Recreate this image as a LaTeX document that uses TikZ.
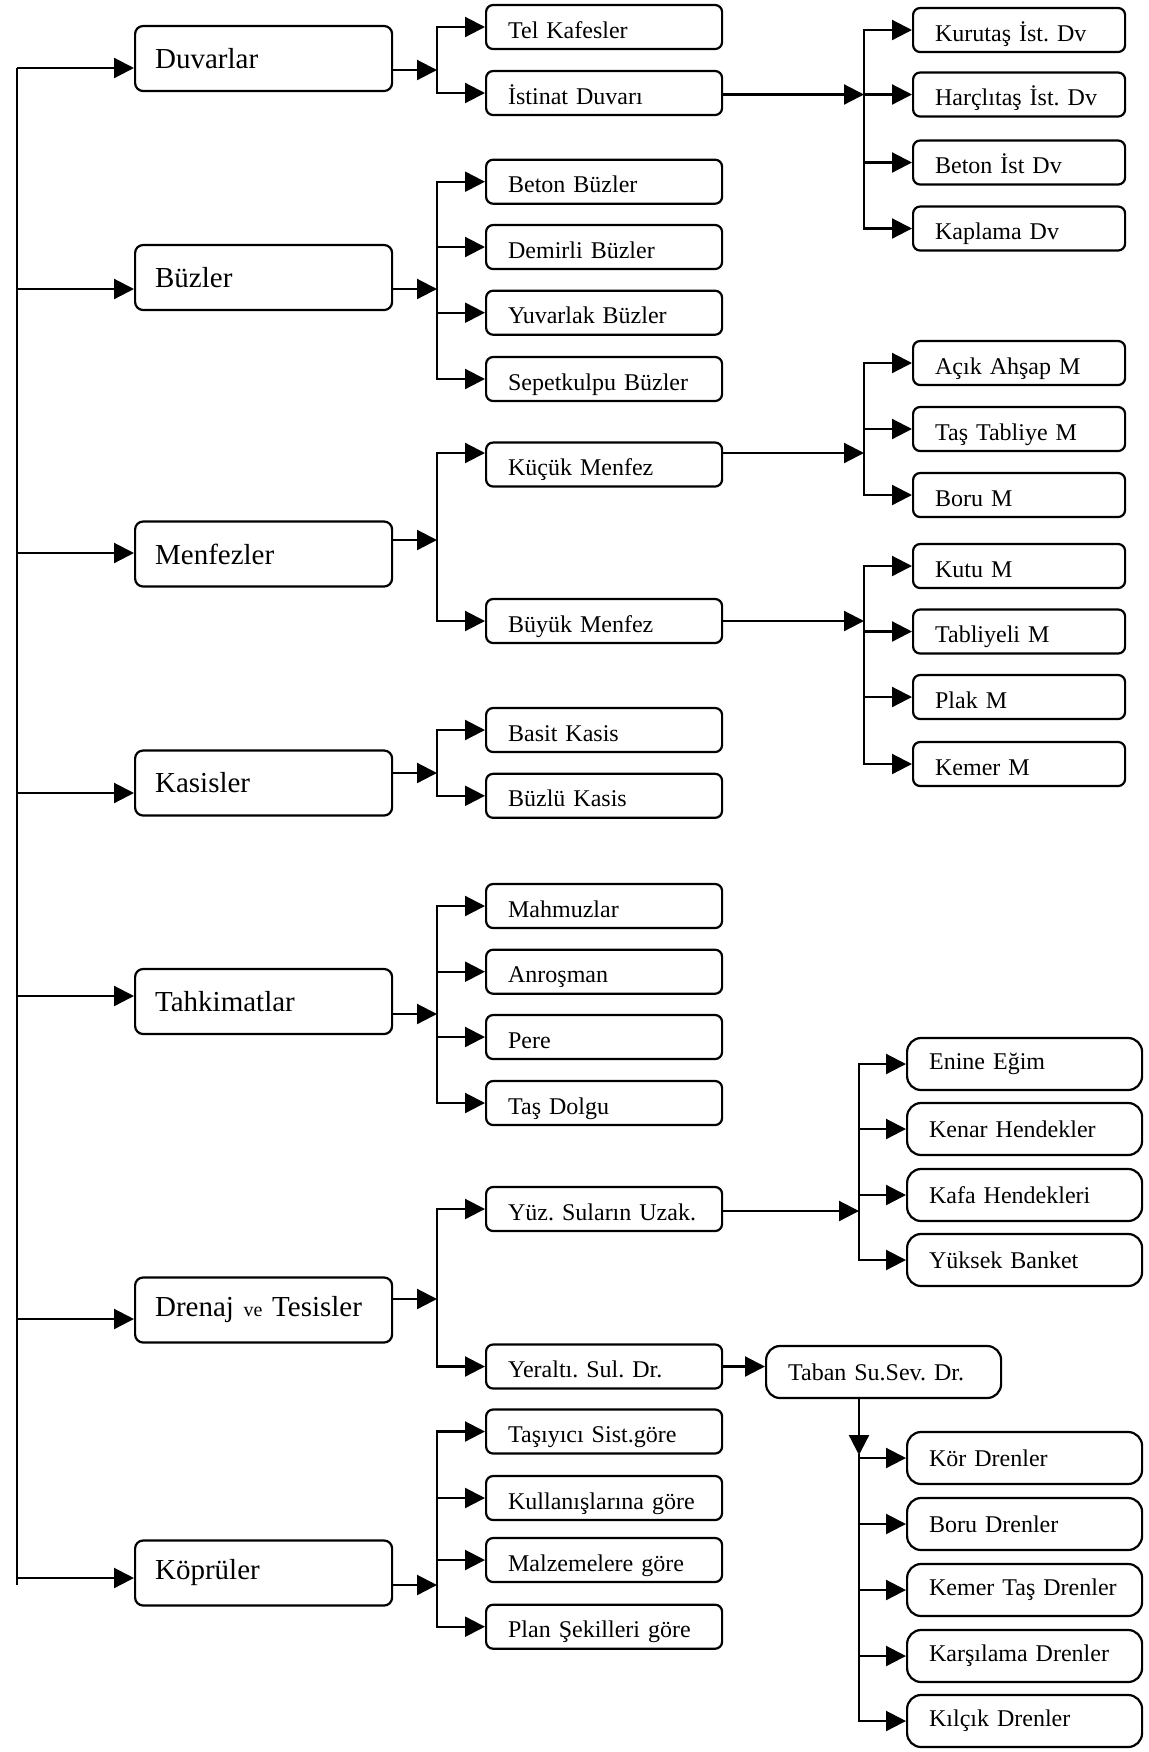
\documentclass[tikz,border=0pt]{standalone}
\usepackage{fontspec}
\setmainfont{Liberation Serif}
\usetikzlibrary{arrows.meta}
\frenchspacing

\begin{document}
\begin{tikzpicture}[x=0.5pt,y=-0.5pt,line width=1.1pt,
    tip/.style={-{Triangle[length=10pt,width=10pt]}},
    bracket/.style={line cap=rect},
    mainbox/.style={draw,rounded corners=4pt,anchor=west,minimum width=128.5pt,minimum height=32.5pt,
      inner xsep=10pt,text width=108.5pt,align=left,font=\fontsize{14.5}{17}\selectfont},
    subbox/.style={draw,rounded corners=3.5pt,anchor=west,minimum width=118pt,minimum height=22pt,
      inner xsep=11pt,text width=96pt,text height=11pt,text depth=0pt,align=left,font=\fontsize{12}{14}\selectfont},
    leafbox/.style={subbox,minimum width=106pt,text width=84pt},
    bigbox/.style={draw,rounded corners=7pt,anchor=west,minimum width=117.5pt,minimum height=26pt,
      inner xsep=11pt,text width=95.5pt,align=left,font=\fontsize{12}{14}\selectfont}]
  \useasboundingbox (0,0) rectangle (1148,1752);

  % main branches
  \node[mainbox] (duvar) at (134,58.5) {Duvarlar};
  \node[mainbox] (buz) at (134,277.5) {Büzler};
  \node[mainbox] (menfez) at (134,554) {Menfezler};
  \node[mainbox] (kasis) at (134,783) {Kasisler};
  \node[mainbox] (tahkim) at (134,1001.5) {Tahkimatlar};
  \node[mainbox] (drenaj) at (134,1310) {Drenaj {\fontsize{10}{12}\selectfont ve} Tesisler};
  \node[mainbox] (kopru) at (134,1573) {Köprüler};

  % trunk line on the left
  \coordinate (trunk) at (17,68);
  \coordinate (trunkend) at (17,1585);
  \draw (trunk) -- (trunkend);
  \draw[tip] (trunk) -- (duvar.west |- trunk);
  \draw[tip] (trunk |- 0,289) -- (buz.west |- 0,289);
  \draw[tip] (trunk |- 0,553) -- (menfez.west |- 0,553);
  \draw[tip] (trunk |- 0,793) -- (kasis.west |- 0,793);
  \draw[tip] (trunk |- 0,996) -- (tahkim.west |- 0,996);
  \draw[tip] (trunk |- 0,1319) -- (drenaj.west |- 0,1319);
  \draw[tip] (trunk |- 0,1578) -- (kopru.west |- 0,1578);

  % second level
  \node[subbox] (tel) at (485,27) {Tel Kafesler};
  \node[subbox] (ist) at (485,93) {İstinat Duvarı};
  \node[subbox] (betonb) at (485,181.7) {Beton Büzler};
  \node[subbox] (demirli) at (485,247) {Demirli Büzler};
  \node[subbox] (yuvarlak) at (485,312.7) {Yuvarlak Büzler};
  \node[subbox] (sepet) at (485,379) {Sepetkulpu Büzler};
  \node[subbox] (kucuk) at (485,464.5) {Küçük Menfez};
  \node[subbox] (buyuk) at (485,621) {Büyük Menfez};
  \node[subbox] (basit) at (485,730) {Basit Kasis};
  \node[subbox] (buzlu) at (485,795.8) {Büzlü Kasis};
  \node[subbox] (mahmuz) at (485,906) {Mahmuzlar};
  \node[subbox] (anros) at (485,971.7) {Anroşman};
  \node[subbox] (pere) at (485,1037) {Pere};
  \node[subbox] (tasdolgu) at (485,1103) {Taş Dolgu};
  \node[subbox] (yuz) at (485,1209) {Yüz. Suların Uzak.};
  \node[subbox] (yeralti) at (485,1366.5) {Yeraltı. Sul. Dr.};
  \node[subbox] (tasiyici) at (485,1431.5) {Taşıyıcı Sist.göre};
  \node[subbox] (kullanis) at (485,1498) {Kullanışlarına göre};
  \node[subbox] (malzeme) at (485,1560) {Malzemelere göre};
  \node[subbox] (plan) at (485,1626.7) {Plan Şekilleri göre};

  % duvarlar
  \coordinate (jduv) at (437,70);
  \draw[tip] (duvar.east |- jduv) -- (jduv);
  \draw[bracket] (jduv |- tel.west) -- (jduv |- ist.west);
  \draw[tip] (jduv |- tel.west) -- (tel.west);
  \draw[tip] (jduv |- ist.west) -- (ist.west);

  % buzler
  \coordinate (jbuz) at (437,289);
  \draw[tip] (buz.east |- jbuz) -- (jbuz);
  \draw[bracket] (jbuz |- betonb.west) -- (jbuz |- sepet.west);
  \draw[tip] (jbuz |- betonb.west) -- (betonb.west);
  \draw[tip] (jbuz |- demirli.west) -- (demirli.west);
  \draw[tip] (jbuz |- yuvarlak.west) -- (yuvarlak.west);
  \draw[tip] (jbuz |- sepet.west) -- (sepet.west);

  % menfezler
  \coordinate (jmen) at (437,540);
  \coordinate (jkuc) at (864,453);
  \draw[tip] (menfez.east |- jmen) -- (jmen);
  \draw[bracket] (jmen |- jkuc) -- (jmen |- buyuk.west);
  \draw[tip] (jmen |- jkuc) -- (kucuk.west |- jkuc);
  \draw[tip] (jmen |- buyuk.west) -- (buyuk.west);

  % kasisler
  \coordinate (jkas) at (437,773);
  \draw[tip] (kasis.east |- jkas) -- (jkas);
  \draw[bracket] (jkas |- basit.west) -- (jkas |- buzlu.west);
  \draw[tip] (jkas |- basit.west) -- (basit.west);
  \draw[tip] (jkas |- buzlu.west) -- (buzlu.west);

  % tahkimatlar
  \coordinate (jtah) at (437,1014);
  \draw[tip] (tahkim.east |- jtah) -- (jtah);
  \draw[bracket] (jtah |- mahmuz.west) -- (jtah |- tasdolgu.west);
  \draw[tip] (jtah |- mahmuz.west) -- (mahmuz.west);
  \draw[tip] (jtah |- anros.west) -- (anros.west);
  \draw[tip] (jtah |- pere.west) -- (pere.west);
  \draw[tip] (jtah |- tasdolgu.west) -- (tasdolgu.west);

  % drenaj
  \coordinate (jdren) at (437,1299);
  \draw[tip] (drenaj.east |- jdren) -- (jdren);
  \draw[bracket] (jdren |- yuz.west) -- (jdren |- yeralti.west);
  \draw[tip] (jdren |- yuz.west) -- (yuz.west);
  \draw[tip] (jdren |- yeralti.west) -- (yeralti.west);

  % kopruler
  \coordinate (jkop) at (437,1585);
  \draw[tip] (kopru.east |- jkop) -- (jkop);
  \draw[bracket] (jkop |- tasiyici.west) -- (jkop |- plan.west);
  \draw[tip] (jkop |- tasiyici.west) -- (tasiyici.west);
  \draw[tip] (jkop |- kullanis.west) -- (kullanis.west);
  \draw[tip] (jkop |- malzeme.west) -- (malzeme.west);
  \draw[tip] (jkop |- plan.west) -- (plan.west);

  % istinat duvari types
  \node[leafbox] (kurutas) at (912,30) {Kurutaş İst. Dv};
  \node[leafbox] (harcli) at (912,94.5) {Harçlıtaş İst. Dv};
  \node[leafbox] (betonist) at (912,162.5) {Beton İst Dv};
  \node[leafbox] (kaplama) at (912,228.5) {Kaplama Dv};
  \coordinate (jist) at (864,94.5);
  \draw[tip] (ist.east |- jist) -- (jist);
  \draw[bracket] (jist |- kurutas.west) -- (jist |- kaplama.west);
  \draw[tip] (jist |- kurutas.west) -- (kurutas.west);
  \draw[tip] (jist |- harcli.west) -- (harcli.west);
  \draw[tip] (jist |- betonist.west) -- (betonist.west);
  \draw[tip] (jist |- kaplama.west) -- (kaplama.west);

  % kucuk menfez types
  \node[leafbox] (acik) at (912,363) {Açık Ahşap M};
  \node[leafbox] (tastab) at (912,429) {Taş Tabliye M};
  \node[leafbox] (boru) at (912,495) {Boru M};
  \draw[tip] (kucuk.east |- jkuc) -- (jkuc);
  \draw[bracket] (jkuc |- acik.west) -- (jkuc |- boru.west);
  \draw[tip] (jkuc |- acik.west) -- (acik.west);
  \draw[tip] (jkuc |- tastab.west) -- (tastab.west);
  \draw[tip] (jkuc |- boru.west) -- (boru.west);

  % buyuk menfez types
  \node[leafbox] (kutu) at (912,566) {Kutu M};
  \node[leafbox] (tabliyeli) at (912,631.5) {Tabliyeli M};
  \node[leafbox] (plak) at (912,697) {Plak M};
  \node[leafbox] (kemer) at (912,764) {Kemer M};
  \coordinate (jbuy) at (864,621);
  \draw[tip] (buyuk.east |- jbuy) -- (jbuy);
  \draw[bracket] (jbuy |- kutu.west) -- (jbuy |- kemer.west);
  \draw[tip] (jbuy |- kutu.west) -- (kutu.west);
  \draw[tip] (jbuy |- tabliyeli.west) -- (tabliyeli.west);
  \draw[tip] (jbuy |- plak.west) -- (plak.west);
  \draw[tip] (jbuy |- kemer.west) -- (kemer.west);

  % yuzey sulari
  \node[bigbox] (enine) at (906,1064) {Enine Eğim};
  \node[bigbox] (kenar) at (906,1129) {Kenar Hendekler};
  \node[bigbox] (kafa) at (906,1195) {Kafa Hendekleri};
  \node[bigbox] (yuksek) at (906,1260) {Yüksek Banket};
  \coordinate (jyuz) at (859,1211);
  \draw[tip] (yuz.east |- jyuz) -- (jyuz);
  \draw[bracket] (jyuz |- enine.west) -- (jyuz |- yuksek.west);
  \draw[tip] (jyuz |- enine.west) -- (enine.west);
  \draw[tip] (jyuz |- kenar.west) -- (kenar.west);
  \draw[tip] (jyuz |- kafa.west) -- (kafa.west);
  \draw[tip] (jyuz |- yuksek.west) -- (yuksek.west);

  % yeralti sulari
  \node[bigbox] (taban) at (765,1372) {Taban Su.Sev. Dr.};
  \draw[tip] (yeralti.east) -- (taban.west |- yeralti.east);
  \node[bigbox] (kor) at (906,1458) {Kör Drenler};
  \node[bigbox] (borud) at (906,1524) {Boru Drenler};
  \node[bigbox] (kemertas) at (906,1590) {Kemer Taş Drenler};
  \node[bigbox] (karsi) at (906,1656) {Karşılama Drenler};
  \node[bigbox] (kilcik) at (906,1721) {Kılçık Drenler};
  \coordinate (jtab) at (859,1455);
  \draw[tip] (taban.south -| jtab) -- (jtab);
  \draw[bracket] (jtab) -- (jtab |- kilcik.west);
  \draw[tip] (jtab |- kor.west) -- (kor.west);
  \draw[tip] (jtab |- borud.west) -- (borud.west);
  \draw[tip] (jtab |- kemertas.west) -- (kemertas.west);
  \draw[tip] (jtab |- karsi.west) -- (karsi.west);
  \draw[tip] (jtab |- kilcik.west) -- (kilcik.west);
\end{tikzpicture}
\end{document}
